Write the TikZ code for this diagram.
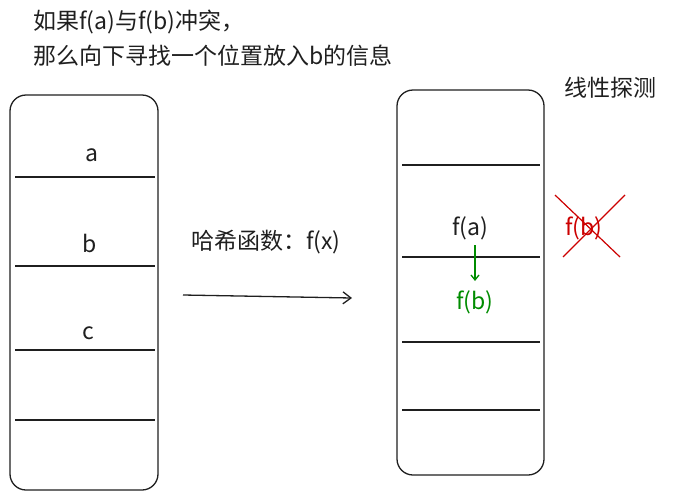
\documentclass[tikz,border=0pt]{standalone}
\usepackage{fontspec}
\setmainfont{Noto Sans CJK SC}
\usetikzlibrary{arrows.meta}
\begin{document}
\begin{tikzpicture}[x=1pt,y=-1pt,
  ln/.style={line width=1.3pt,color=black!88},
  tip/.style={-{Straight Barb[length=8pt,width=12pt]}},
  txt/.style={font=\fontsize{23}{26}\selectfont,text=black!88,inner sep=0pt}]
\useasboundingbox (0,0) rectangle (688,496);
\draw[ln,rounded corners=16pt] (10,95) rectangle (158,490);
\foreach \y in {177,266,350,420} \draw[ln] (15,\y) -- (155,\y);
\node[txt] (la) at (92,155) {a};
\node[txt] (lb) at (90,243) {b};
\node[txt] (lc) at (88,333) {c};
\draw[ln,rounded corners=16pt] (397,90) rectangle (544,475);
\foreach \y in {165,257,342,410} \draw[ln] (402,\y) -- (540,\y);
\node[txt] (fa) at (470,228) {f(a)};
\node[txt,text=green!55!black] (fb) at (475,302) {f(b)};
\coordinate (s) at (475,245); \coordinate (e) at (475,281);
\draw[line width=1.3pt,green!55!black,-{Straight Barb[length=5pt,width=8pt]}] (s) -- (e);
\node[txt,text=red!80!black] (rb) at (584,228) {f(b)};
\draw[line width=1.2pt,red!80!black] (555,195) -- (620,257);
\draw[line width=1.2pt,red!80!black] (563,257) -- (625,195);
\coordinate (a1) at (183,295); \coordinate (a2) at (352,298);
\draw[ln,tip] (a1) -- (a2);
\node[txt] (hf) at (266,242) {哈希函数：f(x)};
\node[txt,anchor=west] (t1) at (33,22) {如果f(a)与f(b)冲突，};
\node[txt,anchor=west] (t2) at (33,56) {那么向下寻找一个位置放入b的信息};
\node[txt] (xx) at (610,88) {线性探测};
\end{tikzpicture}
\end{document}
